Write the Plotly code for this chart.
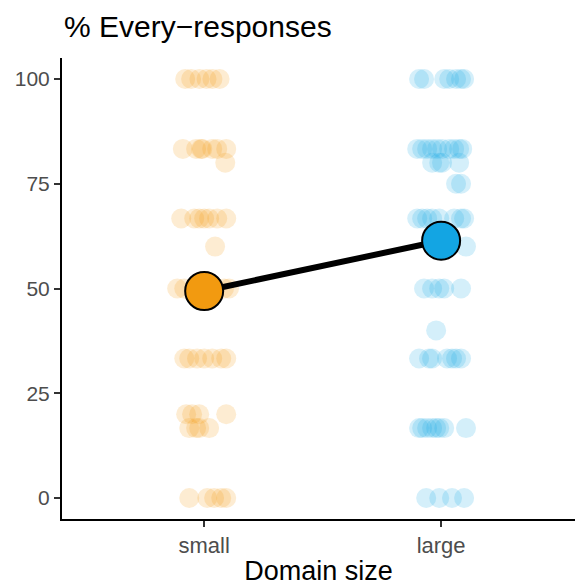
import plotly.graph_objects as go

title_text = "% Every\u2212responses"
categories = ["small", "large"]
y_ticks = [0, 25, 50, 75, 100]

# individual responses (value, horizontal jitter in category units)
small_values = [100]*6 + [83.3]*7 + [80] + [66.7]*7 + [60] + [50]*5 + [33.3]*7 + [20]*4 + [16.7]*4 + [0]*5
small_jitter = [-0.08, -0.055, -0.02, 0.01, 0.035, 0.065,
                -0.09, -0.034, -0.013, -0.008, 0.034, 0.055, 0.093,
                0.089,
                -0.097, -0.042, -0.021, 0.0, 0.021, 0.055, 0.093,
                0.046,
                -0.114, -0.084, -0.01, 0.084, 0.105,
                -0.084, -0.063, -0.03, 0.0, 0.034, 0.072, 0.093,
                -0.076, -0.051, -0.021, 0.093,
                -0.063, -0.034, -0.021, 0.021,
                -0.063, 0.013, 0.042, 0.072, 0.093]

large_values = ([100]*7 + [83.3]*10 + [80]*4 + [75]*2 + [66.7]*8 + [60] + [50]*5 + [40]
                + [33.3]*7 + [16.7]*8 + [0]*4)
large_jitter = [-0.093, -0.072, 0.013, 0.034, 0.063, 0.084, 0.097,
                -0.101, -0.08, -0.059, -0.038, -0.017, 0.004, 0.034, 0.055, 0.076, 0.089,
                -0.038, -0.008, 0.004, 0.076,
                0.063, 0.084,
                -0.101, -0.08, -0.059, -0.038, -0.008, 0.055, 0.084, 0.097,
                0.105,
                -0.072, -0.038, -0.008, 0.013, 0.084,
                -0.021,
                -0.093, -0.051, -0.038, 0.025, 0.046, 0.063, 0.084,
                -0.093, -0.08, -0.059, -0.038, -0.021, -0.008, 0.013, 0.105,
                -0.063, -0.008, 0.046, 0.097]

mean_values = [49.4, 61.4]

orange = "#F29A10"
blue = "#13A5E3"
positions = [1, 2]

fig = go.Figure()

fig.add_trace(go.Scatter(
    x=[positions[0] + j for j in small_jitter], y=small_values, mode="markers",
    marker=dict(size=20, color=orange, opacity=0.19, line=dict(width=0)),
    showlegend=False, hoverinfo="skip"))
fig.add_trace(go.Scatter(
    x=[positions[1] + j for j in large_jitter], y=large_values, mode="markers",
    marker=dict(size=20, color=blue, opacity=0.18, line=dict(width=0)),
    showlegend=False, hoverinfo="skip"))

fig.add_trace(go.Scatter(
    x=positions, y=mean_values, mode="lines",
    line=dict(color="black", width=6), showlegend=False, hoverinfo="skip"))
fig.add_trace(go.Scatter(
    x=positions, y=mean_values, mode="markers",
    marker=dict(size=38, color=[orange, blue], line=dict(color="black", width=2)),
    showlegend=False))

font_family = "Liberation Sans, Arial, Helvetica, sans-serif"

fig.add_annotation(text=title_text, xref="paper", yref="paper", x=0, y=1,
                   xanchor="left", yanchor="bottom", yshift=13, showarrow=False,
                   font=dict(size=30, color="black", family=font_family))

fig.update_layout(
    width=575, height=586,
    margin=dict(l=62, r=0, t=58, b=67, autoexpand=False),
    plot_bgcolor="white", paper_bgcolor="white",
    font=dict(family=font_family),
    xaxis=dict(range=[0.4, 2.565], tickvals=positions, ticktext=categories,
               showgrid=False, zeroline=False, showline=True, linecolor="black", linewidth=2,
               ticks="outside", ticklen=6, tickwidth=2, tickcolor="#333333",
               tickfont=dict(size=22, color="#4d4d4d"), automargin=False,
               title=dict(text="Domain size", font=dict(size=27, color="black"), standoff=5)),
    yaxis=dict(range=[-5, 105], tickvals=y_ticks, automargin=False,
               showgrid=False, zeroline=False, showline=True, linecolor="black", linewidth=2,
               ticks="outside", ticklen=6, tickwidth=2, tickcolor="#333333",
               tickfont=dict(size=21, color="#4d4d4d")),
)

fig.write_html("out.html", config={"displayModeBar": False},
               post_script="document.body.style.margin='0';document.body.style.overflow='hidden';")
